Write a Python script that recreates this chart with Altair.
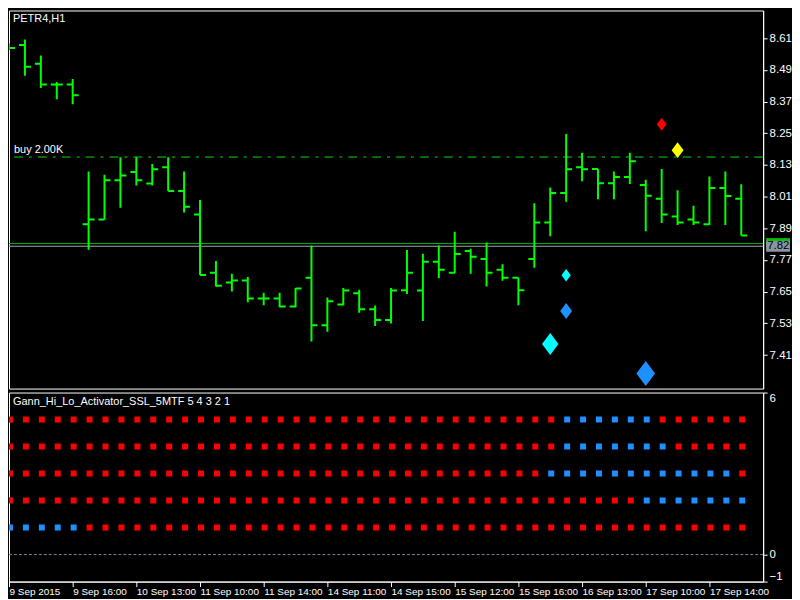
import altair as alt
import pandas as pd

# ---------------- data ----------------
bar_open = [8.580, 8.584, 8.513, 8.435, 8.435, 7.905, 7.923, 8.072, 8.103, 8.060,
            8.121, 8.031, 7.942, 7.722, 7.685, 7.692, 7.624, 7.624, 7.594, 7.703,
            7.523, 7.601, 7.644, 7.583, 7.543, 7.655, 7.654, 7.763, 7.722, 7.804,
            7.774, 7.733, 7.703, 7.774, 7.912, 8.024, 8.121, 8.115, 8.061, 8.084,
            8.054, 8.002, 7.935, 7.923, 7.905, 8.043, 8.002]
bar_high = [8.590, 8.605, 8.545, 8.444, 8.456, 8.105, 8.093, 8.159, 8.159, 8.134,
            8.159, 8.105, 7.997, 7.766, 7.718, 7.706, 7.646, 7.646, 7.664, 7.825,
            7.628, 7.664, 7.657, 7.598, 7.664, 7.808, 7.794, 7.825, 7.877, 7.813,
            7.836, 7.754, 7.703, 7.985, 8.045, 8.247, 8.176, 8.115, 8.105, 8.176,
            8.074, 8.115, 8.034, 7.975, 8.086, 8.105, 8.057]
bar_low = [8.565, 8.468, 8.421, 8.379, 8.360, 7.809, 7.923, 7.968, 8.052, 8.052,
           8.031, 7.950, 7.713, 7.670, 7.651, 7.610, 7.599, 7.591, 7.591, 7.461,
           7.498, 7.599, 7.570, 7.520, 7.529, 7.641, 7.539, 7.701, 7.720, 7.718,
           7.670, 7.691, 7.599, 7.741, 7.860, 7.991, 8.068, 8.000, 8.000, 8.058,
           7.879, 7.910, 7.903, 7.903, 7.903, 7.903, 7.863]
bar_close = [8.573, 8.502, 8.435, 8.435, 8.394, 7.923, 8.072, 8.090, 8.072, 8.114,
             8.031, 7.972, 7.713, 7.672, 7.692, 7.624, 7.624, 7.594, 7.662, 7.523,
             7.614, 7.654, 7.583, 7.543, 7.654, 7.722, 7.763, 7.733, 7.793, 7.782,
             7.722, 7.703, 7.655, 7.912, 8.024, 8.114, 8.114, 8.061, 8.084, 8.144,
             8.013, 7.942, 7.912, 7.912, 8.043, 8.012, 7.863]

time_label_bars = [0, 4, 8, 12, 16, 20, 24, 28, 32, 36, 40, 44]
time_labels = ["9 Sep 2015", "9 Sep 16:00", "10 Sep 13:00", "11 Sep 10:00",
               "11 Sep 14:00", "14 Sep 11:00", "14 Sep 15:00", "15 Sep 12:00",
               "15 Sep 16:00", "16 Sep 13:00", "17 Sep 10:00", "17 Sep 14:00"]
price_ticks = [8.61, 8.49, 8.37, 8.25, 8.13, 8.01, 7.89, 7.77, 7.65, 7.53, 7.41]
ind_ticks = [6, 0, -1]

symbol_title = "PETR4,H1"
indicator_title = "Gann_Hi_Lo_Activator_SSL_5MTF 5 4 3 2 1"
order_price = [8.160]
order_label = ["buy 2.00K"]
green_level = [7.832]
bid_price = [7.822]
bid_text = ["7.82"]

sig_bar = [41, 42, 35, 35, 34, 40]
sig_price = [8.284, 8.186, 7.712, 7.577, 7.452, 7.340]
sig_kind = ["red", "yellow", "cyan_s", "blue_m", "cyan_l", "blue_l"]

ssl_rows = [5, 4, 3, 2, 1]
ssl_states = [
    "RRRRRRRRRR" "RRRRRRRRRR" "RRRRRRRRRR" "RRRRRBBBBB" "BRRRRRR",
    "RRRRRRRRRR" "RRRRRRRRRR" "RRRRRRRRRR" "RRRRRBBBBB" "BBRRRRR",
    "RRRRRRRRRR" "RRRRRRRRRR" "RRRRRRRRRR" "RRRRBBBBBB" "BBBBBBR",
    "RRRRRRRRRR" "RRRRRRRRRR" "RRRRRRRRRR" "RRRRRRRRRR" "BBBBBBB",
    "BBBBBRRRRR" "RRRRRRRRRR" "RRRRRRRRRR" "RRRRRRRRRR" "RRRRRRR",
]

# ---------------- styles ----------------
FONT = "Liberation Sans"
GREEN = "#00FF00"
W, H1, H2 = 758, 380, 190
X_DOMAIN = [0, 47.375]
kind_colors = {"red": "#FF0000", "yellow": "#FFFF00", "cyan_s": "#00FFFF",
               "blue_m": "#1E90FF", "cyan_l": "#00FFFF", "blue_l": "#1E90FF"}
kind_sizes = {"red": 169, "yellow": 256, "cyan_s": 156,
              "blue_m": 256, "cyan_l": 484, "blue_l": 625}
DIAMOND = "M0,-1L0.75,0L0,1L-0.75,0Z"
BOX = "M-1,-0.46L1,-0.46L1,0.46L-1,0.46Z"

# ---------------- tables ----------------
n = len(bar_open)
bars = pd.DataFrame({"i": list(range(n)), "o": bar_open, "h": bar_high,
                     "l": bar_low, "c": bar_close})
sig = pd.DataFrame({"i": sig_bar, "p": sig_price, "k": sig_kind})
recs = []
for r, s in zip(ssl_rows, ssl_states):
    for i, ch in enumerate(s):
        recs.append({"i": i, "row": r, "s": ch})
ssl = pd.DataFrame(recs)

xs = alt.Scale(domain=X_DOMAIN, nice=False, zero=False)
ys = alt.Scale(domain=[7.283, 8.715], nice=False, zero=False)
ys2 = alt.Scale(domain=[-1, 6], nice=False, zero=False)

common_axis = dict(grid=False, title=None, labelColor="white", tickColor="white",
                   domainColor="white", labelFont=FONT, labelOverlap=False)
price_axis = alt.Axis(orient="right", values=price_ticks, format=".2f", tickSize=4,
                      labelPadding=2, labelFontSize=11.5, labelFlush=False, **common_axis)
ind_axis = alt.Axis(orient="right", values=ind_ticks, format="d", tickSize=4,
                    labelPadding=2, labelFontSize=11.5, labelFlush=True, **common_axis)
label_expr = ("[" + ",".join("'%s'" % t for t in time_labels) + "][indexof(["
              + ",".join(str(b) for b in time_label_bars) + "], datum.value)]")
time_axis = alt.Axis(orient="bottom", values=time_label_bars, labelExpr=label_expr,
                     labelAlign="left", labelBaseline="top", tickSize=5, labelPadding=0,
                     labelFontSize=10, labelFlush=False, **common_axis)


def X(f="i"):
    return alt.X(f"{f}:Q", scale=xs, axis=None)


def Y(f):
    return alt.Y(f"{f}:Q", scale=ys, axis=price_axis)


base = alt.Chart(bars)
hl = base.mark_rule(color=GREEN, strokeWidth=2, clip=True).encode(x=X(), y=Y("l"), y2="h:Q")
op = base.mark_rule(color=GREEN, strokeWidth=2, xOffset=-6, clip=True).encode(
    x=X(), x2=alt.X2("i:Q"), y=Y("o"))
cl = base.mark_rule(color=GREEN, strokeWidth=2, x2Offset=6, clip=True).encode(
    x=X(), x2=alt.X2("i:Q"), y=Y("c"))

buy_df = pd.DataFrame({"p": order_price, "t": order_label})
buy_line = alt.Chart(buy_df).mark_rule(color="#00DD00", strokeWidth=1,
                                       strokeDash=[9, 6, 3, 6]).encode(y=Y("p"))
buy_text = alt.Chart(buy_df).mark_text(align="left", baseline="alphabetic", dy=-4,
                                       color="white", font=FONT, fontSize=11).encode(
    x=alt.value(5), y=Y("p"), text="t:N")
g_df = pd.DataFrame({"p": green_level})
g_line = alt.Chart(g_df).mark_rule(color="#00C000", strokeWidth=1).encode(y=Y("p"))
b_df = pd.DataFrame({"p": bid_price, "t": bid_text})
b_line = alt.Chart(b_df).mark_rule(color="#A0A8B0", strokeWidth=1).encode(y=Y("p"))

g_box = alt.Chart(g_df).mark_point(shape=BOX, filled=True, size=576, opacity=1,
                                   strokeWidth=0, color="#00C000").encode(
    x=alt.value(W + 15), y=Y("p"))
b_box = alt.Chart(b_df).mark_point(shape=BOX, filled=True, size=576, opacity=1,
                                   strokeWidth=0, color="#8A96A3").encode(
    x=alt.value(W + 15), y=Y("p"))
b_txt = alt.Chart(b_df).mark_text(align="left", baseline="middle", color="#000000",
                                  font=FONT, fontSize=11.5).encode(
    x=alt.value(W + 4), y=Y("p"), text="t:N")

diamonds = []
for kind in kind_colors:
    diamonds.append(
        alt.Chart(sig[sig["k"] == kind]).mark_point(
            shape=DIAMOND, filled=True, opacity=1, strokeWidth=0,
            color=kind_colors[kind], size=kind_sizes[kind]).encode(x=X(), y=Y("p")))

title1 = alt.Chart(pd.DataFrame({"t": [symbol_title]})).mark_text(
    align="left", baseline="alphabetic", color="white", font=FONT, fontSize=11).encode(
    x=alt.value(4), y=alt.value(12), text="t:N")

main = alt.layer(buy_line, g_line, b_line, hl, op, cl, *diamonds, buy_text, title1,
                 g_box, b_box, b_txt).properties(width=W, height=H1)

# ---------------- indicator panel ----------------
zero = alt.Chart(pd.DataFrame({"z": [0]})).mark_rule(
    color="#778899", strokeWidth=1, strokeDash=[3, 2]).encode(
    y=alt.Y("z:Q", scale=ys2, axis=ind_axis))
sq = alt.Chart(ssl).mark_square(size=36, opacity=1, strokeWidth=0, xOffset=1, clip=True).encode(
    x=alt.X("i:Q", scale=xs, axis=time_axis),
    y=alt.Y("row:Q", scale=ys2, axis=ind_axis),
    color=alt.Color("s:N", scale=alt.Scale(domain=["R", "B"], range=["#FF0000", "#1E90FF"]),
                    legend=None))
title2 = alt.Chart(pd.DataFrame({"t": [indicator_title]})).mark_text(
    align="left", baseline="alphabetic", color="white", font=FONT, fontSize=11).encode(
    x=alt.value(4), y=alt.value(13), text="t:N")
ind = alt.layer(zero, sq, title2).properties(width=W, height=H2)

chart = alt.vconcat(main, ind, spacing=2).resolve_scale(color="independent").properties(
    padding=0, background="#000000").configure_view(
    stroke="#FFFFFF", strokeWidth=1, fill="#000000")

chart.save("out.html", embed_options={"renderer": "svg", "actions": False})
